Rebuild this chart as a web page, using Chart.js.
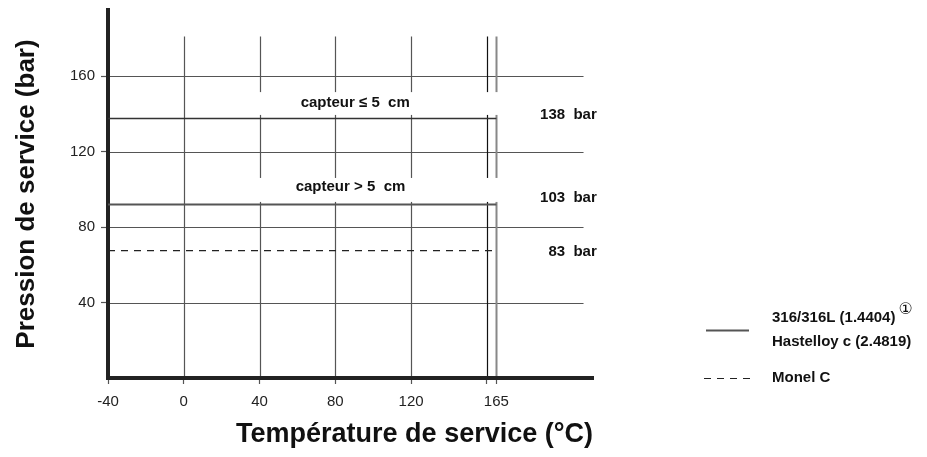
<!DOCTYPE html>
<html>
<head>
<meta charset="utf-8">
<script src="https://cdn.jsdelivr.net/npm/chart.js@4.4.1/dist/chart.umd.min.js"></script>
<style>
  html, body { margin: 0; padding: 0; background: #fff; }
  #wrap { width: 927px; height: 457px; }
</style>
</head>
<body>
<div id="wrap"><canvas id="pressureChart" width="927" height="457"></canvas></div>
<script>
// axis ticks
const xTicks = [-40, 0, 40, 80, 120, 160, 165];
const xLabels = ["-40", "0", "40", "80", "120", "", "165"];
const yTicks = [40, 80, 120, 160];
const gridX = [0, 40, 80, 120, 160, 165];
const gridY = [40, 80, 120, 160];

// series (level = where the line sits on the drawing)
const seriesNames = ["316/316L, Hastelloy c – capteur ≤ 5 cm", "316/316L, Hastelloy c – capteur > 5 cm", "Monel C"];
const seriesFrom = [-40, -40, -40];
const seriesTo = [165, 165, 163];
const seriesLevel = [137.5, 92, 67.5];
const seriesText = ["138  bar", "103  bar", "83  bar"];
const sensorText = ["capteur ≤ 5  cm", "capteur > 5  cm"];

const FONT = "'Liberation Sans', Arial, Helvetica, sans-serif";

const extras = {
  id: "extras",
  beforeDatasetsDraw(chart) {
    const { ctx, scales: { x, y } } = chart;
    ctx.save();
    // horizontal grid
    ctx.strokeStyle = "#555";
    ctx.lineWidth = 1.2;
    gridY.forEach(v => {
      const py = Math.round(y.getPixelForValue(v)) + 0.5;
      ctx.beginPath();
      ctx.moveTo(x.left + 2, py);
      ctx.lineTo(x.getPixelForValue(211), py);
      ctx.stroke();
    });
    // vertical grid
    gridX.forEach(v => {
      const px = Math.round(x.getPixelForValue(v)) + 0.5;
      ctx.strokeStyle = v === 165 ? "#888" : (v === 160 ? "#111" : "#555");
      ctx.lineWidth = v === 165 ? 2 : 1.2;
      ctx.beginPath();
      ctx.moveTo(px, y.getPixelForValue(181));
      ctx.lineTo(px, y.bottom - 2);
      ctx.stroke();
    });
    // white bands behind the sensor labels
    ctx.fillStyle = "#fff";
    [[151.5, 139.4], [106, 93.3]].forEach(([a, b]) => {
      const t = y.getPixelForValue(a), bt = y.getPixelForValue(b);
      const l = x.getPixelForValue(10), r = x.getPixelForValue(175);
      ctx.fillRect(l, t, r - l, bt - t);
    });
    ctx.restore();
  },
  afterDraw(chart) {
    const { ctx, scales: { x, y } } = chart;
    const ds = chart.data.datasets;
    ctx.save();
    ctx.fillStyle = "#111";
    ctx.font = "bold 15px " + FONT;
    ctx.textBaseline = "middle";

    // sensor labels
    ctx.textAlign = "center";
    ctx.fillText(sensorText[0], x.getPixelForValue(90.5), y.getPixelForValue(145.7));
    ctx.fillText(sensorText[1], x.getPixelForValue(88), y.getPixelForValue(101.2));

    // value labels
    ctx.textAlign = "right";
    [139.4, 95.4, 66.8].forEach((lv, i) => {
      ctx.fillText(seriesText[i], x.getPixelForValue(218), y.getPixelForValue(lv));
    });

    // legend
    ctx.textAlign = "left";
    ctx.fillText("316/316L (1.4404)", 772, 318);
    const w = ctx.measureText("316/316L (1.4404)").width;
    ctx.font = "16px 'DejaVu Sans', " + FONT;
    ctx.fillText("\u2460", 772 + w + 3, 310);
    ctx.font = "bold 15px " + FONT;
    ctx.fillText("Hastelloy c (2.4819)", 772, 342);
    ctx.fillText("Monel C", 772, 378);

    ctx.strokeStyle = ds[1].borderColor;
    ctx.lineWidth = 2;
    ctx.beginPath(); ctx.moveTo(706, 330.5); ctx.lineTo(749, 330.5); ctx.stroke();
    ctx.strokeStyle = ds[2].borderColor;
    ctx.lineWidth = ds[2].borderWidth;
    ctx.setLineDash(ds[2].borderDash);
    ctx.beginPath(); ctx.moveTo(704, 378.5); ctx.lineTo(750, 378.5); ctx.stroke();
    ctx.restore();
  }
};

const lineColors = ["#333", "#555", "#222"];
const lineWidths = [1.5, 2, 1.2];
const lineDashes = [[], [], [7, 6]];

const datasets = seriesNames.map((name, i) => ({
  label: name,
  data: [{ x: seriesFrom[i], y: seriesLevel[i] }, { x: seriesTo[i], y: seriesLevel[i] }],
  showLine: true,
  borderColor: lineColors[i],
  borderWidth: lineWidths[i],
  borderDash: lineDashes[i],
  pointRadius: 0,
  fill: false
}));

new Chart(document.getElementById("pressureChart"), {
  type: "scatter",
  data: { datasets },
  options: {
    responsive: false,
    animation: false,
    layout: { padding: { top: 10, right: 334, left: 0, bottom: 0 } },
    plugins: { legend: { display: false }, tooltip: { enabled: false } },
    scales: {
      x: {
        type: "linear",
        min: -40,
        max: 216,
        afterBuildTicks: s => { s.ticks = xTicks.map(v => ({ value: v })); },
        afterFit: s => { s.height = 79; s.paddingLeft = 0; s.paddingRight = 0; },
        ticks: {
          autoSkip: false,
          maxRotation: 0,
          padding: 9,
          color: "#222",
          font: { family: FONT, size: 15 },
          callback: (v, i) => xLabels[i]
        },
        grid: { drawOnChartArea: false, drawTicks: true, tickLength: 6, tickColor: "#555", tickWidth: 1.2 },
        border: { display: true, color: "#222", width: 4 },
        title: {
          display: true,
          text: "Température de service (°C)",
          align: "end",
          color: "#111",
          font: { family: FONT, size: 27, weight: "bold" },
          padding: { top: 0, bottom: 6 }
        }
      },
      y: {
        type: "linear",
        min: 0,
        max: 195,
        afterBuildTicks: s => { s.ticks = yTicks.map(v => ({ value: v })); },
        afterFit: s => { s.width = 108; s.paddingTop = 0; s.paddingBottom = 0; },
        ticks: {
          padding: 6,
          color: "#222",
          font: { family: FONT, size: 15 }
        },
        grid: { drawOnChartArea: false, drawTicks: true, tickLength: 7, tickColor: "#555", tickWidth: 1.2 },
        border: { display: true, color: "#222", width: 4 },
        title: {
          display: true,
          text: "Pression de service (bar)",
          color: "#111",
          font: { family: FONT, size: 26, weight: "bold" },
          padding: { top: 11, bottom: 0 }
        }
      }
    }
  },
  plugins: [extras]
});
</script>
</body>
</html>
